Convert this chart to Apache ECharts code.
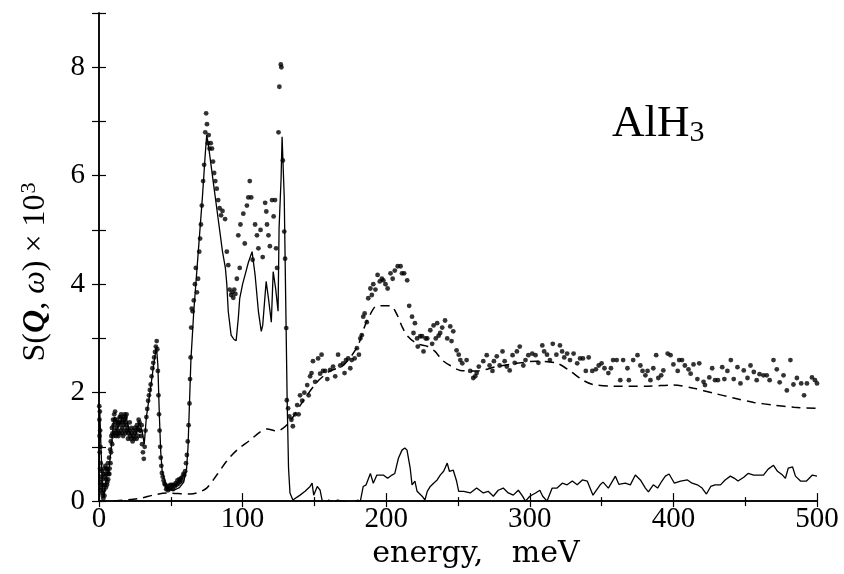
<!DOCTYPE html>
<html>
<head>
<meta charset="utf-8">
<script src="https://cdn.jsdelivr.net/npm/echarts@6/dist/echarts.min.js"></script>
<style>
  html, body { margin: 0; padding: 0; background: #fff; }
  #main { width: 844px; height: 574px; }
</style>
</head>
<body>
<div id="main"></div>
<script>
// measured S(Q,w) x 10^3 : [energy meV, value]
var measured = [
  [0.2,1.75],[0.3,1.5],[0.4,1.2],[0.5,0.9],[0.6,1.65],[0.7,0.6],[0.8,1.3],[0.9,0.35],
  [1,1.0],[1.1,0.2],[1.2,0.7],[1.4,0.45],[1.6,0.25],[1.8,0.3],[2,0.55],[2.2,0.15],
  [2.4,0.4],[2.6,0.1],[2.8,0.3],[3,0.05],[3.2,0.5],[3.4,0.2],[3.6,0.6],[3.8,0.1],
  [4,0.45],[4.2,0.3],[4.4,0.65],[4.6,0.5],[4.8,0.25],[5,0.4],[5.2,0.6],[5.4,0.6],
  [5.6,0.3],[5.8,0.35],[6,0.55],[6.2,0.7],[6.4,0.4],[6.6,0.5],[7,0.8],[7.2,0.5],
  [7.4,0.6],[7.8,0.95],[8,0.7],[8.2,1.1],[8.4,0.9],[8.6,1.2],[9,1.35],[9.2,1.05],
  [9.4,1.25],[9.8,1.5],[10,1.2],[10.2,1.4],[10.6,1.6],[10.8,1.25],[11,1.5],[11.2,1.65],
  [11.4,1.3],[11.8,1.45],[12,1.2],[12.2,1.35],[12.6,1.5],[12.8,1.25],[13,1.3],[13.4,1.45],
  [13.6,1.2],[13.8,1.4],[14.2,1.25],[14.4,1.55],[14.6,1.45],[15,1.55],[15.2,1.3],[15.4,1.6],
  [15.8,1.45],[16,1.25],[16.2,1.35],[16.6,1.5],[16.8,1.2],[17,1.4],[17.4,1.55],[17.6,1.3],
  [17.8,1.6],[18.2,1.45],[18.4,1.25],[18.6,1.55],[19,1.4],[19.2,1.6],[19.4,1.3],
  [19.8,1.35],[20.2,1.15],[20.4,1.25],[21,1.3],[21.4,1.45],[21.6,1.2],[22.2,1.15],[22.6,1.35],
  [22.8,1.25],[23.4,1.1],[23.8,1.3],[24,1.2],[24.6,1.15],[25,1.35],[25.2,1.25],[25.8,1.3],
  [26.2,1.15],[26.4,1.4],[27,1.35],[27.3,1.2],[27.6,1.5],[28.2,1.45],[28.5,1.3],[28.8,1.3],
  [29.4,1.2],[29.7,1.4],[30,1.05],[30.6,0.9],[31.2,0.78],[31.8,1.0],
  [32.4,1.3],[33,1.55],[33.6,1.7],[34.2,1.85],[34.8,1.95],[35.4,2.05],[36,2.15],
  [36.6,2.3],[37.2,2.45],[37.8,2.55],[38.4,2.65],[39,2.75],[39.6,2.85],[40.2,2.95],
  [40.6,2.8],[41,2.4],[41.4,1.95],[41.8,1.6],[42.2,1.3],[42.6,1.0],[43,0.8],
  [43.4,0.65],[43.8,0.52],[44.4,0.45],[45,0.38],[45.6,0.32],[46.2,0.3],[46.8,0.22],
  [47.4,0.25],[48,0.2],[48.6,0.28],[49.2,0.22],[49.8,0.3],[50.4,0.25],[51,0.3],
  [51.6,0.22],[52.2,0.3],[52.8,0.27],[53.4,0.33],[54,0.3],[54.6,0.38],[55.2,0.32],
  [55.8,0.4],[56.4,0.35],[57,0.42],[57.6,0.38],[58.2,0.45],[58.8,0.5],[59.4,0.48],
  [60,0.55],[60.6,0.7],[61.2,0.85],[61.8,1.1],[62.4,1.4],[63,1.8],[63.4,2.25],
  [63.8,2.65],[64.2,3.2],[64.6,3.55],[65.2,3.5],[66,3.7],[66.8,4.0],[67.4,4.3],
  [68.2,3.85],[69,4.1],[69.8,4.6],[70.4,4.84],[71,5.1],[71.6,5.45],[72.5,5.9],
  [73.2,6.2],[74,6.8],[74.6,7.15],[75.2,6.95],[75.8,6.6],[76.4,6.75],[77,6.5],
  [77.8,6.6],[78.7,6.5],[79.4,6.26],[80.2,6.05],[81,5.9],[82,5.76],[83,5.55],
  [84,5.4],[85,5.27],[86,5.35],[87.8,5.2],[89,4.6],[90,4.35],[91,3.9],[92,3.8],
  [92.8,3.85],[93.5,3.75],[94.2,3.9],[95,3.82],[96,4.1],[97,4.9],[98,4.3],[98.5,5.1],
  [100.5,5.3],[101.5,4.75],[103,5.45],[104,5.6],[105,5.9],[106,5.6],[107,4.45],
  [108.7,5.1],[110,4.9],[111,4.66],[112.5,5.0],[114,4.5],[115.7,5.5],[116.5,5.34],
  [117,5.1],[118,4.9],[119,4.7],[120.5,5.55],[121.6,5.25],[122.6,5.55],[123.3,4.66],
  [124,4.3],[125,6.8],[125.6,7.64],[126.6,8.05],[127,8.0],[128,6.28],[129,4.97],
  [129.6,4.47],[130.4,3.19],[130.8,1.86],[131.7,1.71],[132.6,1.56],[134,1.5],
  [135,1.38],[136.5,1.6],[138,1.77],[139,1.6],[140,1.95],[141.5,1.85],[143,2.0],
  [145,2.14],[146,1.95],[147,2.3],[148,2.36],[149,2.58],[150.5,2.2],[152.6,2.63],
  [154,2.35],[155,2.7],[156,2.4],[157.5,2.4],[159,2.25],[161,2.42],[163,2.48],
  [164.5,2.3],[166.5,2.7],[168,2.5],[170,2.54],[171,2.36],[172,2.6],[173.5,2.63],
  [175,2.45],[176,2.6],[178,2.63],[179.6,2.82],[181,2.7],[182,3.0],[183,3.06],
  [184,3.4],[185,3.46],[186.5,3.3],[187.5,3.74],[189,3.92],[190,3.8],[191,4.0],
  [192.5,3.9],[194,4.17],[195.5,4.05],[197,4.1],[198,4.07],[199.5,4.0],[201,3.92],
  [203,4.2],[204.5,4.1],[206,4.25],[208,4.33],[210,4.33],[211,4.2],[212.5,4.2],
  [214.6,4.07],[216,3.6],[218,3.4],[219,3.1],[220,3.28],[221.5,3.0],[222,2.85],
  [223.7,3.04],[225,3.04],[226,2.76],[227.5,3.0],[228.6,3.0],[230.7,3.15],[232,2.9],
  [233,3.24],[234.5,3.0],[235.5,3.28],[236.5,3.05],[237.6,3.1],[239,3.2],[241,3.33],
  [242.5,3.0],[244.6,3.22],[245.5,2.95],[246.7,3.13],[249,2.78],[250.5,2.7],
  [251.6,2.6],[253,2.54],[256,2.6],[258.5,2.4],[260.6,2.27],[262,2.3],[263,2.36],
  [264.5,2.48],[267.6,2.58],[270,2.69],[272,2.5],[274,2.4],[275,2.58],[277,2.67],
  [279,2.5],[281,2.76],[282.5,2.58],[284,2.48],[286,2.41],[288,2.69],[289.5,2.55],
  [291,2.76],[293,2.85],[295.5,2.5],[297,2.6],[299,2.69],[301.7,2.72],[304,2.69],
  [306,2.55],[308.7,2.87],[310,2.76],[312,2.7],[314,2.6],[316,2.9],[318.5,2.7],
  [321,2.87],[322.5,2.76],[324,2.65],[326,2.72],[328,2.6],[330.5,2.72],[333,2.54],
  [335,2.63],[337,2.63],[339,2.4],[341,2.65],[343.5,2.4],[346,2.43],[348,2.5],
  [350,2.54],[352,2.45],[354.7,2.36],[356.5,2.45],[358,2.6],[360.5,2.6],[363,2.23],
  [365,2.6],[368,2.45],[369,2.23],[372,2.6],[375,2.69],[377,2.5],[378.5,2.4],
  [380.5,2.32],[382,2.4],[384,2.23],[386,2.45],[388,2.69],[389.5,2.27],[391.5,2.32],
  [393,2.41],[396,2.72],[398,2.69],[400,2.52],[403,2.4],[404,2.6],[406,2.6],[408,2.5],
  [410.5,2.43],[412,2.35],[414,2.52],[416.7,2.25],[418,2.54],[421,2.2],[422,2.14],
  [425,2.28],[427,2.45],[429,2.23],[431,2.23],[434,2.47],[435.5,2.25],[437.6,2.4],
  [440,2.6],[442,2.25],[444.6,2.47],[446.7,2.17],[449,2.41],[451.6,2.27],[453.7,2.5],
  [456,2.38],[458,2.23],[460,2.34],[462.7,2.32],[465,2.32],[467,2.23],[469.7,2.6],
  [472,2.43],[474,2.19],[476.7,2.32],[479,2.04],[481.5,2.6],[483.6,2.15],[486,2.27],
  [489,2.17],[491,1.95],[493,2.17],[496.5,2.28],[498.6,2.23],[500,2.17]
];

// calculated one-phonon spectrum (solid line)
var onePhonon = [
  [0,0.3],[0.5,1.7],[1.5,0.9],[2.5,0.2],[3.5,0.1],[5,0.4],[7,0.6],[9,1.1],[10,1.45],
  [11,1.55],[13,1.35],[15,1.45],[16,1.55],[18,1.45],[19,1.55],[21,1.3],[24,1.15],
  [26,1.25],[28,1.45],[30,1.3],[31.5,1.05],[33,1.55],[36,2.1],[38,2.5],[40,2.85],
  [41,2.5],[42,1.6],[43,0.9],[44,0.55],[46,0.35],[48,0.22],[52,0.2],[56,0.25],
  [59,0.35],[61,0.6],[62,1.0],[63,1.8],[64,2.6],[66,3.5],[68,4.2],[70,4.9],[72,5.6],
  [74,6.4],[75,6.75],[76,6.6],[78,6.2],[80,5.8],[82,5.4],[84,5.0],[86,4.6],[88,4.3],
  [89,4.0],[90,3.5],[92,3.06],[94,2.98],[95.5,2.96],[97,3.37],[98,3.74],[100,4.0],
  [102,4.2],[104,4.4],[106.6,4.6],[108.7,4.17],[111,3.5],[113,3.13],[114,3.24],
  [116.4,4.05],[118,3.74],[120,3.3],[121.3,4.23],[123,3.92],[124.7,3.5],[125.4,5.03],
  [126.8,5.95],[127.5,6.72],[129,5.6],[130,3.74],[131,1.9],[132,0.6],[133,0.15],
  [135,0.02],[140,0.11],[143.5,0.18],[147,0.27],[148.4,0.33],[149.5,0.11],[152,0.27],
  [154,0.2],[156,-0.07],[158,-0.04],[160,0.02],[163,-0.07],[166,0.02],[170,0.0],
  [173,-0.02],[177,-0.09],[180,0.02],[182,0.0],[184,0.27],[186,0.3],[189,0.51],
  [191,0.33],[193.5,0.48],[198,0.48],[201,0.42],[204,0.48],[206,0.51],[208.5,0.79],
  [211,0.94],[213,0.98],[214.5,0.94],[216.7,0.61],[218,0.3],[220,0.37],[221.5,0.18],
  [225,0.09],[227,0.02],[228.6,0.18],[230.7,0.27],[233,0.33],[235.5,0.39],[237.6,0.48],
  [240,0.55],[242.5,0.7],[244,0.55],[246.7,0.57],[249,0.37],[250.5,0.18],[254,0.18],
  [258.5,0.15],[263,0.24],[267.6,0.15],[271,0.18],[274.6,0.09],[278,0.2],[281.5,0.24],
  [285,0.15],[288.5,0.11],[292,0.2],[294.5,0.11],[297,0.0],[300,0.09],[304,0.15],
  [307,0.2],[309,0.09],[312,0.0],[315.6,0.24],[319,0.24],[322.6,0.33],[326,0.3],
  [329.6,0.37],[333,0.3],[336.6,0.39],[340,0.37],[344,0.11],[349,0.3],[351,0.35],
  [354.7,0.24],[359.6,0.46],[362,0.31],[366.5,0.33],[370,0.3],[373.5,0.48],[377,0.39],
  [380.5,0.24],[382.6,0.17],[386,0.3],[389,0.24],[392,0.37],[394.4,0.46],[397,0.5],
  [400.7,0.33],[405,0.37],[409.8,0.39],[413,0.33],[416.7,0.3],[420,0.24],[423,0.13],
  [426,0.27],[429,0.3],[432.8,0.3],[436,0.39],[439.7,0.46],[442.5,0.42],[445,0.37],
  [449,0.44],[452,0.51],[456,0.48],[459,0.48],[462.7,0.48],[466,0.59],[469.7,0.66],
  [472.5,0.55],[476,0.48],[478,0.42],[480,0.61],[483,0.63],[485,0.46],[488.5,0.37],
  [492.7,0.37],[496.8,0.48],[500,0.46]
];

// multiphonon contribution (dashed line)
var multiPhonon = [
  [10,0.0],[28.6,0.05],[37.6,0.11],[47,0.15],[63.4,0.13],[68,0.15],[75,0.24],
  [82,0.48],[89,0.74],[96,0.94],[105,1.12],[112,1.27],[117,1.33],[124,1.29],
  [128,1.34],[133,1.47],[142,1.84],[152,2.2],[161,2.4],[170,2.5],[180,2.85],
  [184,3.15],[187.5,3.37],[193.7,3.6],[203,3.6],[207.7,3.43],[211,3.22],[215,3.04],
  [221.6,2.9],[229,2.85],[234,2.76],[239,2.6],[244.6,2.5],[251.6,2.41],[263,2.4],
  [277,2.48],[291,2.54],[305,2.58],[319,2.54],[328,2.4],[337,2.23],[344,2.15],
  [358,2.12],[382,2.12],[400,2.14],[414,2.08],[428,1.99],[442,1.9],[456,1.82],
  [470,1.77],[484,1.73],[500,1.71]
];

var xTicks = [0, 100, 200, 300, 400, 500];
var yTicks = [0, 2, 4, 6, 8];

var chart = echarts.init(document.getElementById('main'));
var serif = 'Liberation Serif';
var axisLine = { show: true, lineStyle: { color: '#000', width: 1.5 } };

var option = {
    animation: false,
    backgroundColor: '#fff',
    grid: { left: 99, right: 27, top: 13, bottom: 71 },
    xAxis: [
        {
            type: 'value', min: 0, max: 500, interval: 100,
            name: 'energy,   meV', nameLocation: 'middle', nameGap: 36,
            nameTextStyle: { fontFamily: 'DejaVu Serif', fontSize: 30, color: '#000', padding: [0, 0, 0, 36] },
            axisLine: axisLine,
            axisTick: { inside: true, length: 8, lineStyle: { color: '#000', width: 1.2 } },
            minorTick: { show: true, splitNumber: 2, length: 4, lineStyle: { color: '#000', width: 1.2 } },
            axisLabel: {
                margin: 4, fontFamily: serif, fontSize: 29, color: '#000',
                formatter: function (v) { return xTicks.indexOf(v) >= 0 ? String(v) : ''; }
            },
            splitLine: { show: false }
        },
        {
            type: 'value', min: 0, max: 500, interval: 100, position: 'top',
            axisLine: axisLine,
            axisTick: { inside: true, length: 6, lineStyle: { color: '#000', width: 1.2 } },
            minorTick: { show: true, splitNumber: 2, length: 5, lineStyle: { color: '#000', width: 1.2 } },
            axisLabel: { show: false },
            splitLine: { show: false }
        }
    ],
    yAxis: [
        {
            type: 'value', min: 0, max: 9, interval: 1,
            axisLine: axisLine,
            axisTick: { inside: true, length: 7, lineStyle: { color: '#000', width: 1.2 } },
            axisLabel: {
                margin: 14, fontFamily: serif, fontSize: 29, color: '#000',
                formatter: function (v) { return yTicks.indexOf(v) >= 0 ? String(v) : ''; }
            },
            splitLine: { show: false }
        },
        {
            type: 'value', min: 0, max: 9, interval: 1, position: 'right',
            axisLine: axisLine,
            axisTick: { inside: true, length: 7, lineStyle: { color: '#000', width: 1.2 } },
            axisLabel: { show: false },
            splitLine: { show: false }
        }
    ],
    series: [
        {
            name: 'dashed', type: 'line', data: multiPhonon, showSymbol: false, smooth: 0.3,
            lineStyle: { color: '#000', width: 1.5, type: [9, 6] }
        },
        {
            name: 'calc', type: 'line', data: onePhonon, showSymbol: false,
            lineStyle: { color: '#000', width: 1.3 }
        },
        {
            name: 'exp', type: 'scatter', data: measured, symbol: 'circle', symbolSize: 4.8,
            itemStyle: { color: '#000' }
        }
    ],
    graphic: [
        {
            type: 'text', x: 36, y: 272, rotation: Math.PI / 2,
            style: {
                text: '{a|S(}{q|Q}{a|, }{w|ω}{a|) × 10}{s|3}',
                align: 'center', verticalAlign: 'middle',
                rich: {
                    a: { fontFamily: serif, fontSize: 32, fill: '#000' },
                    q: { fontFamily: serif, fontSize: 32, fontStyle: 'italic', fontWeight: 'bold', fill: '#000' },
                    w: { fontFamily: serif, fontSize: 32, fontStyle: 'italic', fill: '#000' },
                    s: { fontFamily: serif, fontSize: 22, fill: '#000', padding: [0, 0, 14, 1] }
                }
            }
        },
        {
            type: 'text', left: 612, top: 102,
            style: {
                text: '{a|AlH}{b|3}',
                rich: {
                    a: { fontFamily: serif, fontSize: 45, fill: '#000' },
                    b: { fontFamily: serif, fontSize: 30, fill: '#000', padding: [18, 0, 0, 0] }
                }
            }
        }
    ]
};

chart.setOption(option);
</script>
</body>
</html>
